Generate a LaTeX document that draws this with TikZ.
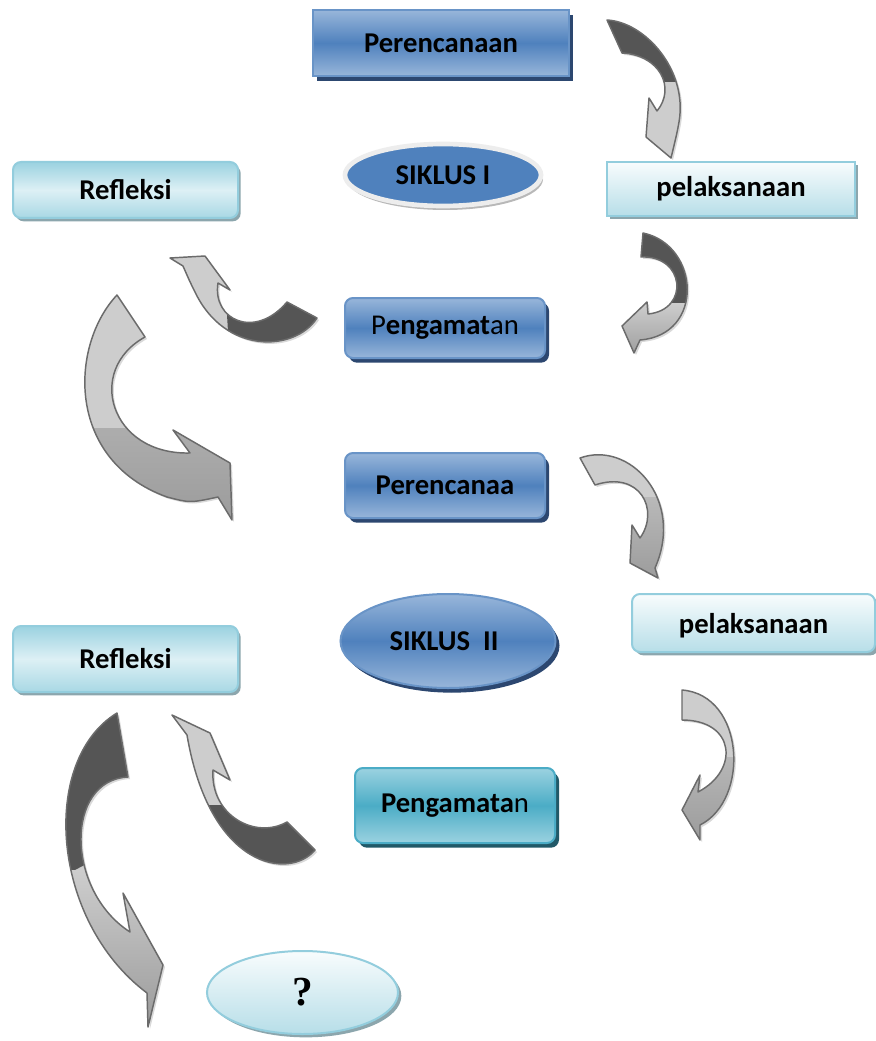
\documentclass[tikz,border=0pt]{standalone}
\usepackage{fontspec}
\setmainfont{Carlito}
\newfontfamily\qfont{Liberation Serif}
\usetikzlibrary{shapes.geometric,shadows}

\definecolor{blueA}{HTML}{4F81BD}
\definecolor{blueL}{HTML}{98B6DA}
\definecolor{blueS}{HTML}{2C4770}
\definecolor{tealA}{HTML}{4BACC6}
\definecolor{tealL}{HTML}{9BD2E0}
\definecolor{tealS}{HTML}{215968}
\definecolor{aquaB}{HTML}{93CDDD}
\definecolor{aquaD}{HTML}{B7DEE8}
\definecolor{aquaM}{HTML}{DDF0F5}
\definecolor{aquaT}{HTML}{F8FCFD}
\definecolor{aquaS}{HTML}{8CA6AD}
\definecolor{arrL}{HTML}{CDCDCD}
\definecolor{arrM}{HTML}{9A9A9A}
\definecolor{arrD}{HTML}{555555}
\definecolor{arrO}{HTML}{6B6B6B}

\tikzset{
  box/.style={rectangle, inner sep=0pt, line width=1.5pt,
    font=\fontsize{21.5}{26}\selectfont\bfseries},
  bluebox/.style={box, draw=blueA!85!white, top color=blueL, bottom color=blueL,
    middle color=blueA,
    drop shadow={shadow xshift=3pt, shadow yshift=-3.5pt, fill=blueS, opacity=1}},
  tealbox/.style={box, rounded corners=6pt, draw=tealA, top color=tealL,
    bottom color=tealL, middle color=tealA,
    drop shadow={shadow xshift=3pt, shadow yshift=-3.5pt, fill=tealS, opacity=1}},
  aquabox/.style={box, draw=aquaB, top color=aquaT, bottom color=aquaD,
    drop shadow={shadow xshift=2.5pt, shadow yshift=-2.5pt, fill=aquaS, opacity=1}},
  refbox/.style={box, rounded corners=6pt, draw=aquaB, top color=tealL,
    bottom color=tealL!80!aquaM, middle color=aquaM,
    drop shadow={shadow xshift=2pt, shadow yshift=-2.5pt, fill=aquaS, opacity=1}},
  arr/.style={draw=arrO, line width=1.1pt, fill=arrL, line join=round,
    drop shadow={shadow xshift=1.5pt, shadow yshift=-1.5pt, fill=black!15, opacity=1}},
  back/.style={fill=arrD},
  front/.style={top color=arrL, bottom color=arrM}
}

\begin{document}
\begin{tikzpicture}[x=0.75pt,y=-0.75pt]
  \fill[white] (0,0) rectangle (875,1041);
  \useasboundingbox (0,0) rectangle (875,1041);

  % siklus I
  \node[bluebox, minimum width=192pt, minimum height=49.5pt] (per1) at (441,43) {Perencanaan};
  \node[box, ellipse, minimum width=147pt, minimum height=46.5pt, fill=blueA,
        draw=white!93!black, line width=3.5pt,
        drop shadow={shadow xshift=1.5pt, shadow yshift=-3pt, fill=black!28, opacity=1}]
        (sik1) at (443,175) {SIKLUS I};
  \node[aquabox, minimum width=186pt, minimum height=40.5pt] (pel1) at (731,189) {pelaksanaan};
  \node[refbox, minimum width=168.75pt, minimum height=42pt] (ref1) at (125.5,190) {Refleksi};
  \node[bluebox, rounded corners=6pt, minimum width=150pt, minimum height=45pt]
        (pen1) at (445,328) {\textmd{P}engamat\textmd{an}};

  % siklus II
  \node[bluebox, rounded corners=6pt, minimum width=150pt, minimum height=48.75pt]
        (per2) at (445,485.5) {Perencanaa};
  \node[bluebox, ellipse, minimum width=161.25pt, minimum height=70.5pt,
        drop shadow={shadow xshift=2.5pt, shadow yshift=-3pt, fill=blueS, opacity=1}]
        (sik2) at (448,641) {SIKLUS~~II\hspace*{6pt}};
  \node[aquabox, rounded corners=6pt, minimum width=182.25pt, minimum height=43.5pt,
        text depth=0pt] (pel2) at (753.5,623) {pelaksanaan};
  \node[refbox, minimum width=168.75pt, minimum height=49.5pt] (ref2) at (125.5,659) {Refleksi};
  \node[tealbox, minimum width=150pt, minimum height=56.25pt]
        (pen2) at (455,805.5) {Pengamata\textmd{n}};
  \node[aquabox, ellipse, minimum width=143.25pt, minimum height=62.25pt,
        font=\fontsize{31}{34}\qfont\bfseries] (akhir) at (302.5,992.5) {?};

  % curved arrows
  \draw[arr, path picture={\fill[back] (590,5) rectangle (710,82);}]
    (607,20) .. controls (645,22) and (688,70) .. (679,122)
    .. controls (677,133) .. (671,158) -- (646,137) -- (649,98) -- (657,111)
    .. controls (676,88) and (660,55) .. (622,53) -- cycle;
  \draw[arr, path picture={\fill[back] (615,220) rectangle (715,303);
                           \shade[front] (615,303) rectangle (715,360);}]
    (643,233) .. controls (700,245) and (705,335) .. (640,340) -- (634,353)
    -- (622,326) -- (647,302) -- (648,314)
    .. controls (690,310) and (685,255) .. (641,257) -- cycle;
  \draw[arr, path picture={\fill[back] (226,298) -- (229,348) -- (340,348) -- (340,290) -- cycle;}]
    (287,302) -- (317,318) .. controls (295,352) and (225,355) .. (195,292)
    .. controls (190,282) .. (183,266) -- (170,258) -- (205,256) -- (230,290)
    -- (218,283) .. controls (212,320) and (255,340) .. (287,302) -- cycle;
  \draw[arr, path picture={\shade[top color=arrL!85!arrM, bottom color=arrM] (55,428) rectangle (245,530);}]
    (117,295) .. controls (70,345) and (65,460) .. (167,497)
    .. controls (190,503) .. (218,497) -- (232,520) -- (230,463) -- (173,430)
    -- (190,453) .. controls (110,455) and (85,370) .. (145,337) -- cycle;
  \draw[arr, path picture={\shade[front] (570,497) rectangle (700,585);}]
    (580,458) .. controls (630,440) and (685,500) .. (655,568) -- (658,578)
    -- (630,563) -- (632,525) -- (640,538)
    .. controls (660,510) and (640,470) .. (595,485) -- cycle;
  \draw[arr, path picture={\shade[front] (670,757) rectangle (750,845);}]
    (682,690) .. controls (745,695) and (750,800) .. (700,825) -- (700,840)
    -- (682,810) -- (700,775) -- (698,792)
    .. controls (740,770) and (735,720) .. (682,720) -- cycle;
  \draw[arr, path picture={\fill[back] (205,805) rectangle (330,880);}]
    (287,822) -- (315,850) .. controls (290,880) and (210,870) .. (187,735)
    -- (172,715) -- (210,733) -- (230,780) -- (213,770)
    .. controls (210,815) and (255,840) .. (287,822) -- cycle;
  \draw[arr, path picture={\fill[back] (20,700) -- (150,700) -- (150,830) -- (75,870) -- (20,870) -- cycle;
                           \shade[front] (20,870) rectangle (170,1030);}]
    (117,713) .. controls (40,760) and (50,920) .. (147,993) -- (148,1027)
    -- (163,965) -- (123,893) -- (130,932)
    .. controls (65,890) and (65,780) .. (128,777) -- cycle;
\end{tikzpicture}
\end{document}
